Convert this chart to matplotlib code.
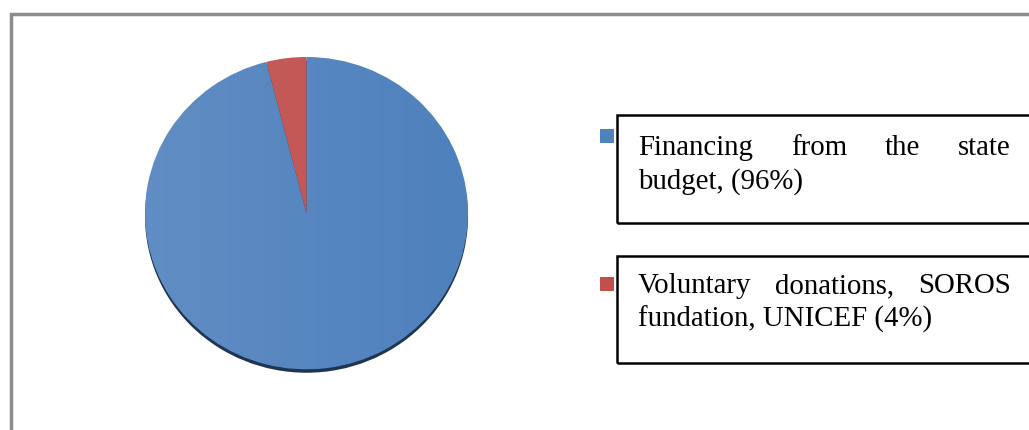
import matplotlib.pyplot as plt
import numpy as np
from matplotlib.patches import Rectangle, Ellipse
from matplotlib.colors import LinearSegmentedColormap

labels = ['Financing from the state budget, (96%)',
          'Voluntary donations, SOROS fundation, UNICEF (4%)']
line1 = [['Financing', 'from', 'the', 'state'],
         ['Voluntary', 'donations,', 'SOROS']]
line2 = ['budget, (96%)', 'fundation, UNICEF (4%)']
values = [96, 4]
colors = ['#4F81BD', '#C0504D']

W, H = 1029, 430
fig = plt.figure(figsize=(W / 100, H / 100), dpi=100)
plt.rcParams['font.family'] = ['Liberation Serif', 'DejaVu Serif']


def fx(px):
    return px / W


def fy(py):
    return 1 - py / H


# outer frame
fig.patches.append(Rectangle((fx(11), fy(460)), fx(1100), 446 / H, transform=fig.transFigure,
                             fill=False, edgecolor='#8C8C8C', linewidth=2.5, clip_on=False))

# pie
ax = fig.add_axes([fx(145), fy(374), fx(323), 317 / H])
ax.add_patch(Ellipse((0, -0.022), 2, 2, facecolor='#1F3550', edgecolor='none', zorder=0))
wedges, _ = ax.pie(values, colors=colors, startangle=90, counterclock=False,
                   radius=1, center=(0, 0), frame=True,
                   wedgeprops=dict(linewidth=0))
ax.set_xlim(-1, 1)
ax.set_ylim(-1.03, 1)
ax.axis('off')
ax.set_aspect('auto')

# light-to-dark shading across the disc
shade = LinearSegmentedColormap.from_list('shade', [(1, 1, 1, 0.10), (1, 1, 1, 0.0)])
grad = np.linspace(0, 1, 256).reshape(1, -1)
for w in wedges:
    im = ax.imshow(grad, extent=(-1, 1, -1, 1), cmap=shade, aspect='auto', zorder=3)
    im.set_clip_path(w)

# legend
boxes = [(115, 223), (256, 363)]
markers = [(600, 129), (600, 277)]
fs = 20.8
renderer = fig.canvas.get_renderer()
for i in range(2):
    top, bot = boxes[i]
    fig.patches.append(Rectangle((fx(617), fy(bot)), fx(500), (bot - top) / H,
                                 transform=fig.transFigure, fill=False,
                                 edgecolor='black', linewidth=1.8, clip_on=False))
    mx, my = markers[i]
    fig.patches.append(Rectangle((fx(mx), fy(my + 14)), fx(14), 14 / H,
                                 transform=fig.transFigure, facecolor=colors[i],
                                 edgecolor='none'))
    # first line is justified across the box
    words = line1[i]
    base1 = top + 40 if i == 0 else top + 37
    texts = [fig.text(0, fy(base1), wd, fontsize=fs, va='baseline', ha='left') for wd in words]
    widths = [t.get_window_extent(renderer).width for t in texts]
    x0, x1 = 638, 1011
    gap = (x1 - x0 - sum(widths)) / (len(words) - 1)
    x = x0
    for t, wdt in zip(texts, widths):
        t.set_x(fx(x))
        x += wdt + gap
    fig.text(fx(x0), fy(base1 + 34), line2[i], fontsize=fs, va='baseline', ha='left')

fig.savefig('out.png', dpi=100)
